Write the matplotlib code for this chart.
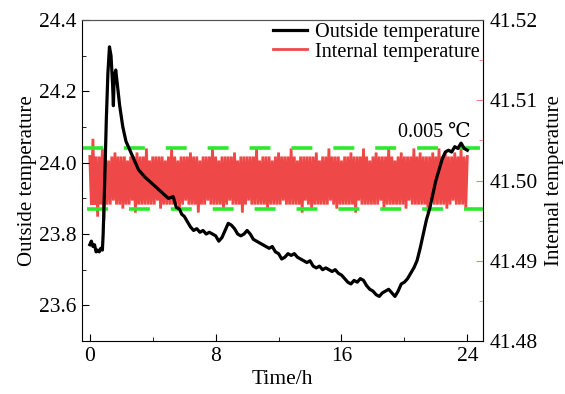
import matplotlib
matplotlib.use('Agg')
import matplotlib.pyplot as plt
from matplotlib.ticker import MultipleLocator, FormatStrFormatter
import numpy as np

plt.rcParams['font.family'] = ['Liberation Serif', 'DejaVu Serif', 'Noto Sans CJK SC']

# outside temperature (left axis)
out_time = [0.0, 0.1, 0.2, 0.3, 0.4, 0.5, 0.6, 0.7, 0.8, 0.85, 0.95, 1.05, 1.15, 1.25,
            1.35, 1.45, 1.5, 1.55, 1.65, 1.75, 1.9, 2.1, 2.3, 2.5, 2.7, 2.9, 3.1, 3.5,
            4.0, 4.5, 5.0, 5.3, 5.4, 5.5, 5.7, 5.85, 6.0, 6.2, 6.4, 6.6, 6.8, 7.0, 7.2,
            7.4, 7.6, 7.8, 8.0, 8.2, 8.4, 8.6, 8.8, 9.0, 9.2, 9.4, 9.6, 9.8, 10.0, 10.2,
            10.4, 10.6, 10.8, 11.0, 11.2, 11.4, 11.6, 11.8, 12.0, 12.2, 12.4, 12.6, 12.8,
            13.0, 13.2, 13.4, 13.6, 13.8, 14.0, 14.2, 14.4, 14.6, 14.8, 15.0, 15.2, 15.4,
            15.6, 15.8, 16.0, 16.2, 16.4, 16.6, 16.8, 17.0, 17.2, 17.4, 17.6, 17.8, 18.0,
            18.2, 18.4, 18.6, 18.8, 19.0, 19.2, 19.4, 19.6, 19.8, 20.0, 20.2, 20.4, 20.6,
            20.8, 21.0, 21.2, 21.4, 21.6, 21.8, 22.0, 22.2, 22.4, 22.6, 22.8, 23.0, 23.2,
            23.4, 23.6, 23.8, 24.0]
out_temp = [23.77, 23.78, 23.765, 23.77, 23.75, 23.755, 23.75, 23.76, 23.755, 23.80, 23.95,
            24.12, 24.25, 24.325, 24.30, 24.22, 24.16, 24.24, 24.26, 24.22, 24.16, 24.10,
            24.06, 24.04, 24.02, 24.0, 23.98, 23.96, 23.94, 23.92, 23.90, 23.905, 23.89,
            23.875, 23.87, 23.855, 23.85, 23.835, 23.82, 23.81, 23.815, 23.805, 23.81, 23.80,
            23.805, 23.80, 23.795, 23.78, 23.79, 23.81, 23.83, 23.825, 23.815, 23.80, 23.795,
            23.80, 23.81, 23.80, 23.785, 23.78, 23.775, 23.77, 23.765, 23.76, 23.765, 23.75,
            23.745, 23.73, 23.735, 23.745, 23.74, 23.745, 23.735, 23.73, 23.725, 23.72,
            23.725, 23.71, 23.705, 23.71, 23.70, 23.705, 23.70, 23.695, 23.70, 23.69, 23.685,
            23.675, 23.665, 23.66, 23.67, 23.665, 23.675, 23.67, 23.655, 23.645, 23.64, 23.63,
            23.625, 23.635, 23.64, 23.645, 23.635, 23.625, 23.64, 23.66, 23.665, 23.675,
            23.69, 23.705, 23.725, 23.76, 23.80, 23.84, 23.87, 23.91, 23.95, 23.98, 24.01,
            24.03, 24.035, 24.03, 24.045, 24.04, 24.055, 24.04, 24.035]

# internal temperature deviation from 41.5, in units of 1e-4, sampled every 0.1 h
internal_dev = [
    30, -30, 52, -30, 30, -45, 30, -30, 40, -50,
    30, -30, 25, -30, 30, -25, 35, -30, 30, -30,
    30, -35, 30, -30, 25, -30, 30, -25, 30, -40,
    35, -30, 30, -30, 30, -30, 40, -30, 25, -30,
    30, -30, 30, -25, 30, -35, 30, -30, 25, -30,
    30, -30, 40, -30, 30, -30, 25, -35, 30, -30,
    30, -25, 30, -30, 35, -30, 30, -30, 30, -40,
    25, -30, 30, -30, 30, -25, 30, -30, 40, -30,
    30, -30, 25, -30, 30, -35, 30, -30, 30, -25,
    30, -30, 35, -30, 25, -30, 30, -40, 30, -30,
    30, -25, 30, -30, 30, -30, 40, -30, 25, -30,
    30, -30, 30, -35, 30, -30, 25, -30, 30, -30,
    35, -30, 30, -25, 30, -30, 30, -30, 40, -30,
    30, -30, 25, -30, 30, -40, 30, -25, 30, -30,
    30, -35, 30, -30, 35, -30, 25, -30, 30, -30,
    30, -30, 40, -25, 30, -30, 30, -35, 30, -30,
    25, -30, 30, -30, 30, -30, 35, -30, 30, -40,
    30, -25, 30, -30, 40, -30, 30, -30, 25, -30,
    30, -30, 35, -30, 30, -25, 30, -35, 30, -30,
    40, -30, 30, -30, 25, -30, 30, -30, 35, -30,
    30, -35, 30, -25, 30, -30, 40, -30, 30, -30,
    35, -30, 30, -30, 30, -40, 30, -25, 35, -30,
    30, -30, 40, -30, 30, -30, 35, -35, 30, -30,
    30, -25, 35, -30, 30, -30, 40, -30, 30, -35,
    30,
]
internal_time = np.arange(len(internal_dev)) * 0.1
internal_temp = 41.5 + np.array(internal_dev) / 10000.0

# green limit lines (right axis units)
limit_hi = 41.504
limit_lo = 41.4965

fig = plt.figure(figsize=(5.65, 3.94), dpi=100)
ax1 = fig.add_axes([0.145, 0.1345, 0.71, 0.8145])
ax2 = ax1.twinx()
ax1.set_zorder(ax2.get_zorder() + 1)
ax1.patch.set_visible(False)

red = '#ef4848'
l2, = ax2.plot(internal_time, internal_temp, color=red, lw=2.0, solid_joinstyle='miter')
hi = ax2.axhline(limit_hi, color='#2ee82e', lw=2.6, zorder=5)
hi.set_dashes((5.8, 5.8))
lo = ax2.axhline(limit_lo, color='#2ee82e', lw=2.6, zorder=5)
lo.set_dashes((0, 1.4, 5.8, 4.4))

l1, = ax1.plot(out_time, out_temp, color='black', lw=2.3)

ax1.set_xlim(-0.5, 25)
ax1.set_ylim(23.5, 24.4)
ax2.set_ylim(41.48, 41.52)

ax1.xaxis.set_major_locator(MultipleLocator(8))
ax1.xaxis.set_minor_locator(MultipleLocator(4))
ax1.set_yticks([23.6, 23.8, 24.0, 24.2, 24.4])
ax1.yaxis.set_minor_locator(MultipleLocator(0.1))
ax2.yaxis.set_major_locator(MultipleLocator(0.01))
ax2.yaxis.set_minor_locator(MultipleLocator(0.005))

ax1.tick_params(which='both', direction='in', labelsize=15.5, top=False, right=False, pad=4)
ax1.tick_params(which='major', length=5)
ax1.tick_params(which='minor', length=3)
ax2.tick_params(which='both', direction='in', labelsize=15.5, colors='#f08080',
                labelcolor='black', pad=5)
ax2.tick_params(which='major', length=5)
ax2.tick_params(which='minor', length=3)
ax2.yaxis.set_major_formatter(FormatStrFormatter('%.2f'))
ax1.yaxis.set_major_formatter(FormatStrFormatter('%.1f'))

ax2.spines['right'].set_color('#f08080')
ax1.spines['top'].set_color('#555555')
ax2.spines['top'].set_color('#555555')
ax2.spines['left'].set_visible(False)
ax2.spines['bottom'].set_visible(False)

ax1.set_xlabel('Time/h', fontsize=15.5, labelpad=3)
ax1.set_ylabel('Outside temperature', fontsize=15, labelpad=1)
ax2.set_ylabel('Internal temperature', fontsize=15, labelpad=5)

ax1.legend(handles=[l1, l2], labels=['Outside temperature', 'Internal temperature'],
           loc='upper right', frameon=False, fontsize=14.6, handlelength=1.65,
           borderaxespad=0.0, borderpad=0.15, labelspacing=0.0, handletextpad=0.4)

ax1.text(21.9, 24.058, '0.005 \u2103', fontsize=14.5, ha='center', va='bottom')

fig.savefig('out.png', dpi=100)
